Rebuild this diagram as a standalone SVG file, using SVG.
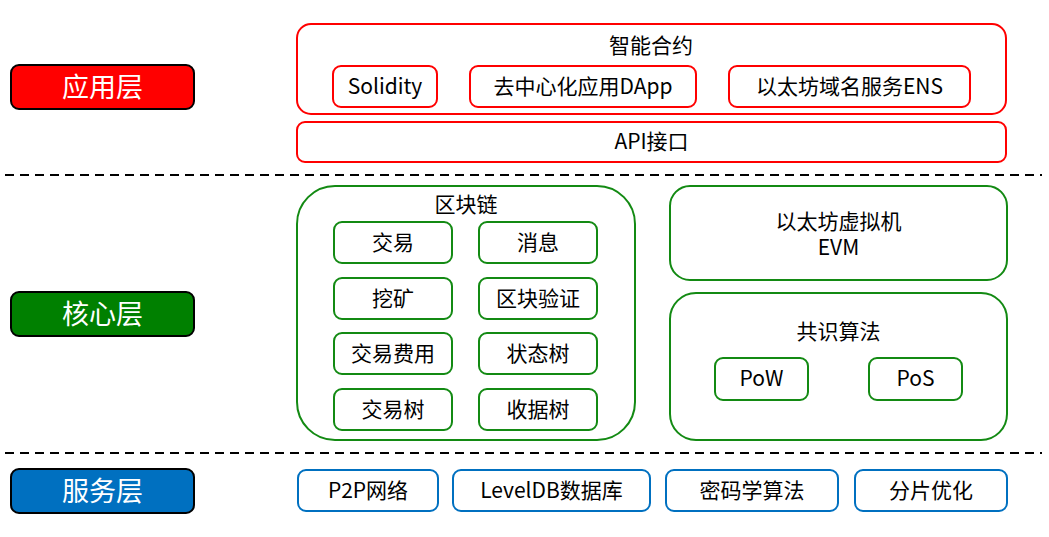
<svg xmlns="http://www.w3.org/2000/svg" width="1049" height="537" viewBox="0 0 1049 537">
<style>
text{font-family:"Noto Sans CJK SC","Noto Sans",sans-serif;text-anchor:middle;dominant-baseline:central;font-size:21px;fill:#000}
.lay{stroke:#000;stroke-width:2}
.lt{fill:#fff;font-size:27px}
.r{fill:#fff;stroke:#FF0000;stroke-width:2}
.g{fill:#fff;stroke:#138A13;stroke-width:2}
.b{fill:#fff;stroke:#0070C0;stroke-width:2}
.dash{stroke:#000;stroke-width:2;stroke-dasharray:9 6;fill:none}
</style>
<rect width="1049" height="537" fill="#fff"/>
<g id="connectors">
<line class="dash" x1="5" y1="175" x2="1042" y2="175"/>
<line class="dash" x1="5" y1="453" x2="1042" y2="453"/>
</g>
<g id="layer-app"><rect class="lay" x="11" y="65" width="183" height="44" rx="8" fill="#FF0000"/><text class="lt" x="102.5" y="85">应用层</text></g>
<g id="layer-core"><rect class="lay" x="11" y="292" width="183" height="44" rx="8" fill="#008000"/><text class="lt" x="102.5" y="312">核心层</text></g>
<g id="layer-svc"><rect class="lay" x="11" y="469" width="183" height="44" rx="8" fill="#0070C0"/><text class="lt" x="102.5" y="489">服务层</text></g>

<g id="smart-contract"><rect class="r" x="297" y="24" width="709" height="90" rx="14"/><text x="651" y="44">智能合约</text></g>
<g id="solidity"><rect class="r" x="333" y="66" width="104" height="41" rx="8"/><text x="385" y="85">Solidity</text></g>
<g id="dapp"><rect class="r" x="470" y="66" width="226" height="41" rx="8"/><text x="583" y="85">去中心化应用DApp</text></g>
<g id="ens"><rect class="r" x="729" y="66" width="241" height="41" rx="8"/><text x="849.5" y="85">以太坊域名服务ENS</text></g>
<g id="api"><rect class="r" x="297" y="122" width="709" height="40" rx="8"/><text x="651.5" y="140">API接口</text></g>

<g id="blockchain"><rect class="g" x="297" y="186" width="338" height="254" rx="38"/><text x="466" y="203">区块链</text></g>
<g id="tx"><rect class="g" x="334" y="222" width="118" height="41" rx="8"/><text x="393" y="241">交易</text></g>
<g id="msg"><rect class="g" x="479" y="222" width="118" height="41" rx="8"/><text x="538" y="241">消息</text></g>
<g id="mining"><rect class="g" x="334" y="278" width="118" height="41" rx="8"/><text x="393" y="297">挖矿</text></g>
<g id="verify"><rect class="g" x="479" y="278" width="118" height="41" rx="8"/><text x="538" y="297">区块验证</text></g>
<g id="fee"><rect class="g" x="334" y="333" width="118" height="41" rx="8"/><text x="393" y="352">交易费用</text></g>
<g id="state"><rect class="g" x="479" y="333" width="118" height="41" rx="8"/><text x="538" y="352">状态树</text></g>
<g id="txtree"><rect class="g" x="334" y="389" width="118" height="41" rx="8"/><text x="393" y="408">交易树</text></g>
<g id="receipt"><rect class="g" x="479" y="389" width="118" height="41" rx="8"/><text x="538" y="408">收据树</text></g>

<g id="evm"><rect class="g" x="670" y="186" width="337" height="94" rx="20"/><text x="838.5" y="220">以太坊虚拟机</text><text x="838.5" y="246">EVM</text></g>
<g id="consensus"><rect class="g" x="670" y="293" width="337" height="147" rx="26"/><text x="838.5" y="330">共识算法</text></g>
<g id="pow"><rect class="g" x="715" y="358" width="93" height="42" rx="8"/><text x="761.5" y="377">PoW</text></g>
<g id="pos"><rect class="g" x="869" y="358" width="93" height="42" rx="8"/><text x="915.5" y="377">PoS</text></g>

<g id="p2p"><rect class="b" x="298" y="470" width="140" height="41" rx="8"/><text x="368" y="489">P2P网络</text></g>
<g id="leveldb"><rect class="b" x="453" y="470" width="197" height="41" rx="8"/><text x="551.5" y="489">LevelDB数据库</text></g>
<g id="crypto"><rect class="b" x="666" y="470" width="172" height="41" rx="8"/><text x="752" y="489">密码学算法</text></g>
<g id="shard"><rect class="b" x="855" y="470" width="152" height="41" rx="8"/><text x="931" y="489">分片优化</text></g>
</svg>
